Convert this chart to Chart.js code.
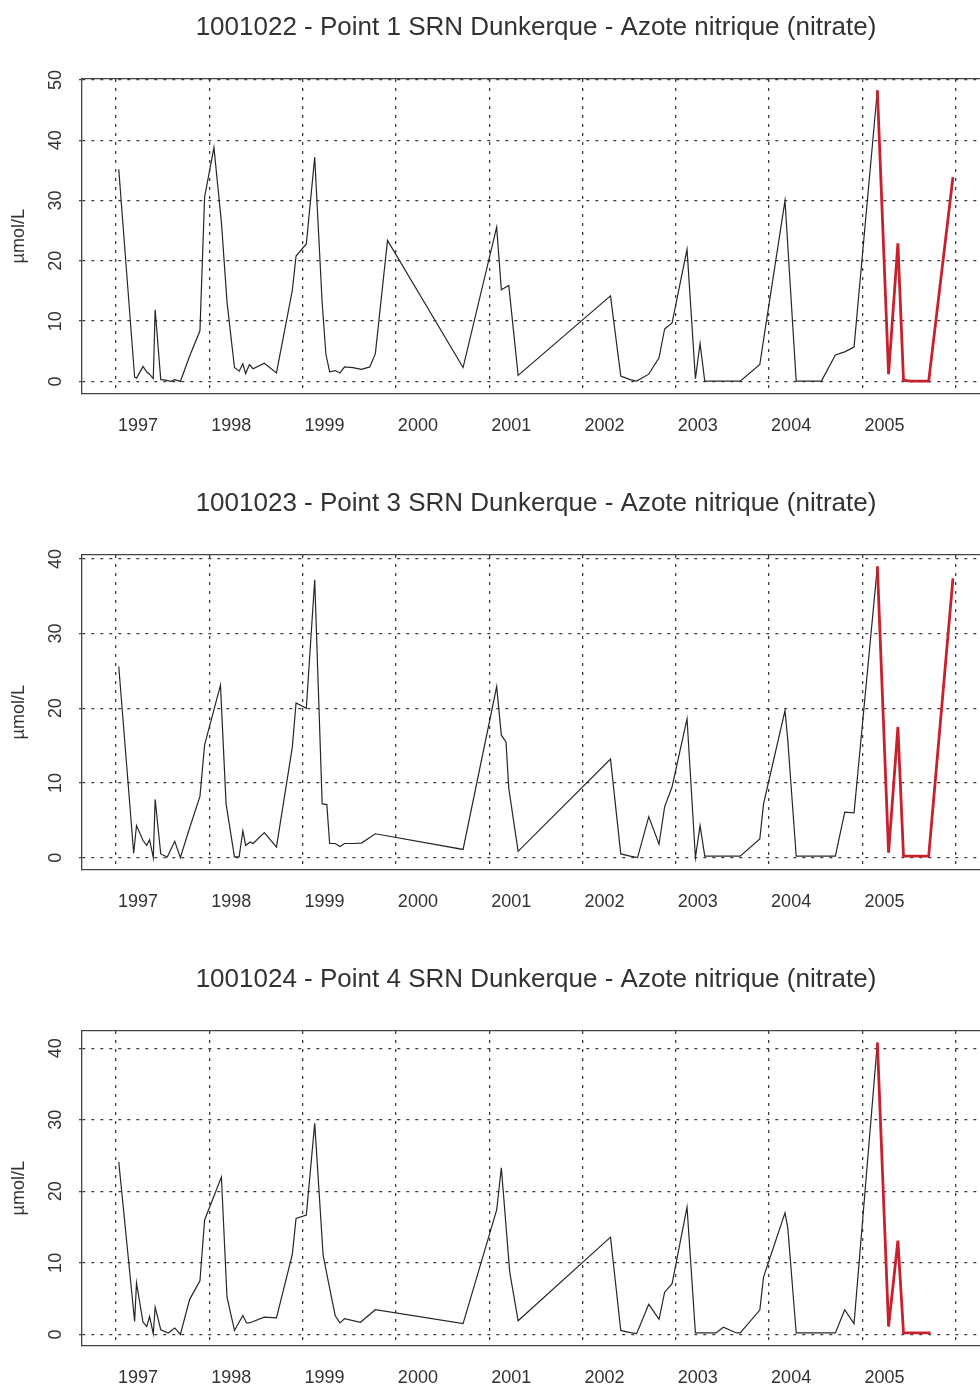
<!DOCTYPE html>
<html>
<head>
<meta charset="utf-8">
<script src="https://cdn.jsdelivr.net/npm/chart.js@4.4.1/dist/chart.umd.min.js"></script>
<style>
  html, body { margin: 0; padding: 0; background: #fff; overflow: hidden; width: 980px; height: 1386px; }
  .panel { width: 1000px; height: 476px; }
  canvas { display: block; }
</style>
</head>
<body>
<div class="panel"><canvas id="chart1" width="1000" height="476"></canvas></div>
<div class="panel"><canvas id="chart2" width="1000" height="476"></canvas></div>
<div class="panel"><canvas id="chart3" width="1000" height="476"></canvas></div>
<script>
// axes
const yearTicks = [1997, 1998, 1999, 2000, 2001, 2002, 2003, 2004, 2005, 2006];
const yTicks50 = [0, 10, 20, 30, 40, 50];
const yTicks40 = [0, 10, 20, 30, 40];

// Point 1 - black series (dates in decimal years, values in µmol/L)
const p1Dates = [1997.03, 1997.20, 1997.22, 1997.29, 1997.33, 1997.36, 1997.40, 1997.42, 1997.48, 1997.53,
    1997.59, 1997.63, 1997.69, 1997.79, 1997.90, 1997.95, 1998.05, 1998.13, 1998.19, 1998.27,
    1998.32, 1998.36, 1998.39, 1998.43, 1998.47, 1998.59, 1998.72, 1998.89, 1998.93, 1999.04,
    1999.13, 1999.21, 1999.25, 1999.29, 1999.35, 1999.40, 1999.45, 1999.54, 1999.63, 1999.72,
    1999.78, 1999.91, 2000.72, 2001.08, 2001.13, 2001.21, 2001.31, 2002.30, 2002.41, 2002.51,
    2002.58, 2002.71, 2002.82, 2002.88, 2002.96, 2003.12, 2003.21, 2003.26, 2003.31, 2003.69,
    2003.90, 2003.95, 2004.17, 2004.29, 2004.56, 2004.71, 2004.81, 2004.91, 2005.16];
const p1Values = [35.2, 0.7, 0.55, 2.5, 1.55, 1.2, 0.45, 11.9, 0.3, 0.2,
    0.0, 0.3, 0.0, 4.2, 8.4, 30.6, 38.8, 26.4, 13.2, 2.3,
    1.7, 2.9, 1.3, 2.8, 2.1, 3.0, 1.4, 15.1, 20.8, 22.8,
    37.2, 13.0, 4.5, 1.6, 1.8, 1.4, 2.4, 2.3, 2.0, 2.4,
    4.6, 23.4, 2.3, 25.6, 15.2, 15.9, 1.0, 14.2, 0.9, 0.3,
    0.05, 1.2, 3.9, 8.7, 9.7, 21.9, 0.45, 6.3, 0.05, 0.05,
    2.8, 7.9, 30.0, 0.05, 0.05, 4.4, 4.9, 5.7, 48.3];
// Point 1 - red series (last year)
const p1RedDates = [2005.16, 2005.28, 2005.38, 2005.44, 2005.51, 2005.71, 2005.97];
const p1RedValues = [48.3, 1.2, 22.9, 0.2, 0.05, 0.05, 33.9];

// Point 3
const p2Dates = [1997.03, 1997.19, 1997.22, 1997.29, 1997.33, 1997.36, 1997.40, 1997.42, 1997.48, 1997.55,
    1997.63, 1997.69, 1997.79, 1997.90, 1997.95, 1998.12, 1998.18, 1998.27, 1998.32, 1998.36,
    1998.39, 1998.44, 1998.47, 1998.59, 1998.72, 1998.89, 1998.93, 1999.04, 1999.13, 1999.21,
    1999.26, 1999.29, 1999.35, 1999.40, 1999.45, 1999.54, 1999.63, 1999.78, 2000.72, 2001.08,
    2001.13, 2001.18, 2001.21, 2001.31, 2002.30, 2002.41, 2002.51, 2002.59, 2002.71, 2002.82,
    2002.88, 2002.96, 2003.12, 2003.21, 2003.26, 2003.31, 2003.69, 2003.90, 2003.94, 2004.17,
    2004.20, 2004.29, 2004.71, 2004.81, 2004.91, 2005.16];
const p2Values = [25.6, 0.6, 4.3, 2.3, 1.65, 2.4, 0.0, 7.8, 0.5, 0.1,
    2.2, 0.0, 4.0, 8.2, 15.1, 23.1, 7.2, 0.1, 0.1, 3.6,
    1.65, 2.1, 1.9, 3.35, 1.4, 14.8, 20.7, 20.0, 37.2, 7.2,
    7.1, 1.9, 1.9, 1.5, 1.9, 1.9, 1.95, 3.2, 1.1, 22.9,
    16.4, 15.5, 9.25, 0.85, 13.2, 0.5, 0.2, 0.0, 5.5, 1.8,
    6.8, 9.5, 18.6, 0.0, 4.3, 0.2, 0.2, 2.5, 7.2, 19.7,
    15.7, 0.2, 0.2, 6.1, 6.0, 39.0];
const p2RedDates = [2005.16, 2005.28, 2005.38, 2005.44, 2005.71, 2005.97];
const p2RedValues = [39.0, 0.65, 17.5, 0.2, 0.2, 37.4];

// Point 4
const p3Dates = [1997.03, 1997.20, 1997.22, 1997.29, 1997.33, 1997.36, 1997.40, 1997.42, 1997.48, 1997.56,
    1997.63, 1997.69, 1997.79, 1997.90, 1997.95, 1998.13, 1998.19, 1998.27, 1998.36, 1998.40,
    1998.43, 1998.59, 1998.72, 1998.89, 1998.93, 1999.04, 1999.13, 1999.22, 1999.28, 1999.35,
    1999.40, 1999.45, 1999.62, 1999.78, 2000.72, 2001.08, 2001.13, 2001.22, 2001.31, 2002.30,
    2002.41, 2002.51, 2002.58, 2002.71, 2002.82, 2002.88, 2002.96, 2003.12, 2003.21, 2003.43,
    2003.51, 2003.65, 2003.69, 2003.90, 2003.94, 2004.17, 2004.20, 2004.29, 2004.71, 2004.81,
    2004.91, 2005.16];
const p3Values = [24.1, 1.8, 7.2, 1.7, 1.1, 2.5, 0.1, 3.8, 0.65, 0.2,
    0.9, 0.0, 4.9, 7.5, 16.0, 22.0, 5.2, 0.55, 2.65, 1.6,
    1.6, 2.4, 2.3, 11.2, 16.2, 16.7, 29.5, 11.1, 7.1, 2.6,
    1.6, 2.2, 1.7, 3.45, 1.5, 17.4, 23.3, 8.7, 1.9, 13.6,
    0.55, 0.25, 0.1, 4.2, 2.1, 5.9, 7.1, 17.8, 0.2, 0.2,
    1.0, 0.2, 0.2, 3.4, 8.0, 17.0, 14.9, 0.2, 0.2, 3.45,
    1.5, 40.8];
const p3RedDates = [2005.16, 2005.28, 2005.38, 2005.44, 2005.73];
const p3RedValues = [40.8, 1.1, 13.1, 0.2, 0.2];

const FONT = '"Liberation Sans", Arial, Helvetica, sans-serif';
const TEXT_COLOR = '#333333';
const GRID_COLOR = '#3d3d3d';
const FRAME_COLOR = '#444444';

// build {x, y} points from two arrays
function toPoints(xs, ys) {
    return xs.map((x, i) => ({ x: x, y: ys[i] }));
}

// one panel: black series + red last-year series
function drawPanel(id, title, dates, values, redDates, redValues, yMin, yMax, yTicks) {
    const ctx = document.getElementById(id).getContext('2d');
    return new Chart(ctx, {
        type: 'line',
        data: {
            datasets: [
                {
                    data: toPoints(dates, values),
                    borderColor: '#262626',
                    borderWidth: 1.2,
                    pointRadius: 0,
                    tension: 0,
                    order: 2
                },
                {
                    data: toPoints(redDates, redValues),
                    borderColor: '#c8202c',
                    borderWidth: 2.8,
                    pointRadius: 0,
                    tension: 0,
                    order: 1
                }
            ]
        },
        options: {
            responsive: false,
            animation: false,
            events: [],
            layout: { padding: { left: 0, right: 10, top: 0, bottom: 17 } },
            plugins: {
                legend: { display: false },
                tooltip: { enabled: false },
                title: {
                    display: true,
                    text: title,
                    fullSize: false,
                    color: TEXT_COLOR,
                    font: { family: FONT, size: 26, weight: 'normal' },
                    padding: { top: 12.4, bottom: 35.4 }
                }
            },
            scales: {
                x: {
                    type: 'linear',
                    position: 'bottom',
                    min: 1996.636,
                    max: 2006.367,
                    afterBuildTicks: scale => { scale.ticks = yearTicks.map(v => ({ value: v })); },
                    grid: { color: GRID_COLOR, lineWidth: 1.3, drawTicks: false },
                    border: { display: true, color: FRAME_COLOR, width: 1.3, dash: [3, 6] },
                    ticks: {
                        color: TEXT_COLOR,
                        font: { family: FONT, size: 18 },
                        padding: 22,
                        labelOffset: 22,
                        autoSkip: false,
                        maxRotation: 0,
                        callback: v => (v < 2006 ? String(v) : '')
                    }
                },
                xTop: {
                    type: 'linear',
                    position: 'top',
                    min: 0,
                    max: 1,
                    grid: { display: false, drawTicks: false },
                    ticks: { display: false },
                    border: { display: true, color: FRAME_COLOR, width: 1.3 }
                },
                y: {
                    type: 'linear',
                    min: yMin,
                    max: yMax,
                    afterBuildTicks: scale => { scale.ticks = yTicks.map(v => ({ value: v })); },
                    afterFit: scale => { scale.width = 82; },
                    grid: { color: GRID_COLOR, lineWidth: 1.3, drawTicks: true, tickLength: 3, tickColor: FRAME_COLOR, tickWidth: 1.2 },
                    border: { display: true, color: FRAME_COLOR, width: 1.3, dash: [3, 6] },
                    ticks: {
                        color: TEXT_COLOR,
                        font: { family: FONT, size: 18 },
                        padding: 13,
                        minRotation: 90,
                        maxRotation: 90,
                        crossAlign: 'center',
                        autoSkip: false
                    },
                    title: {
                        display: true,
                        text: 'µmol/L',
                        color: TEXT_COLOR,
                        font: { family: FONT, size: 18 },
                        padding: { top: 8, bottom: 0 }
                    }
                }
            }
        }
    });
}

drawPanel('chart1', '1001022 - Point 1 SRN Dunkerque - Azote nitrique (nitrate)',
    p1Dates, p1Values, p1RedDates, p1RedValues, -1.99, 50.17, yTicks50);
drawPanel('chart2', '1001023 - Point 3 SRN Dunkerque - Azote nitrique (nitrate)',
    p2Dates, p2Values, p2RedDates, p2RedValues, -1.57, 40.52, yTicks40);
drawPanel('chart3', '1001024 - Point 4 SRN Dunkerque - Azote nitrique (nitrate)',
    p3Dates, p3Values, p3RedDates, p3RedValues, -1.54, 42.42, yTicks40);
</script>
</body>
</html>
